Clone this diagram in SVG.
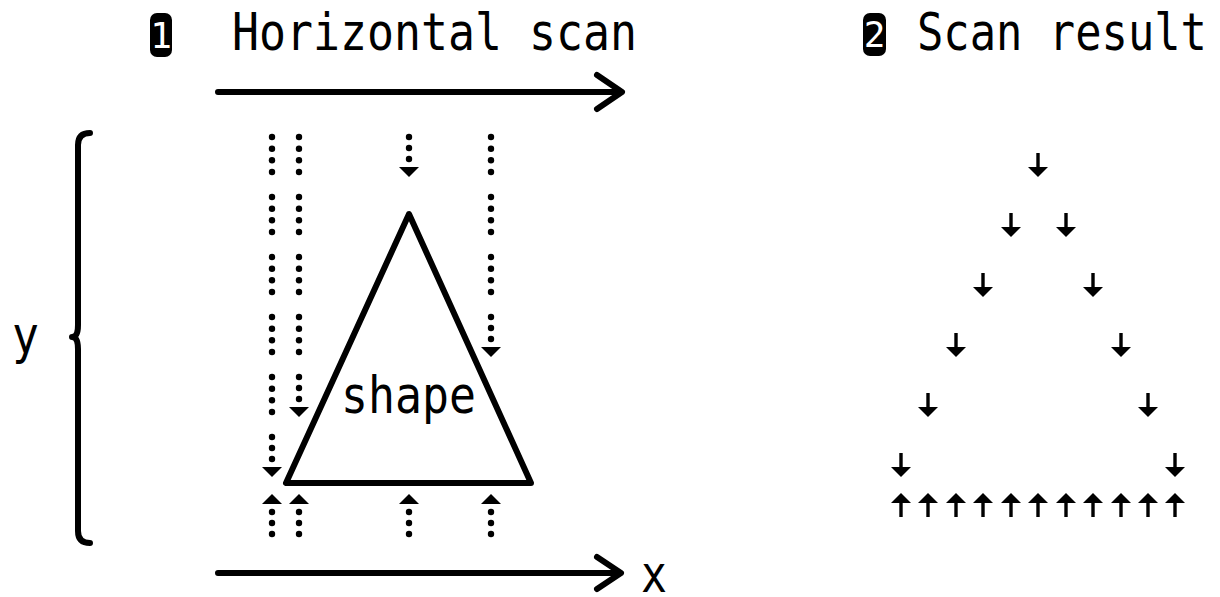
<svg xmlns="http://www.w3.org/2000/svg" xmlns:xlink="http://www.w3.org/1999/xlink" width="1220" height="597" viewBox="0 0 1220 597">
<style>
.t{font-family:"DejaVu Sans Mono","Liberation Mono",monospace;font-size:51px;fill:#000}
.n{font-family:"DejaVu Sans Mono","Liberation Mono",monospace;font-size:36px;fill:#fff;text-anchor:middle}
.ln{fill:none;stroke:#000;stroke-width:6;stroke-linecap:round;stroke-linejoin:round}
</style>
<defs>
<g id="dots4"><circle cy="0" r="3.2"/><circle cy="11.7" r="3.2"/><circle cy="23.3" r="3.2"/><circle cy="35" r="3.2"/></g>
<g id="dn"><circle cy="0" r="3.2"/><circle cy="11" r="3.2"/><circle cy="22" r="3.2"/><polygon points="-10,30 10,30 0,40"/></g>
<g id="up"><polygon points="0,0 -10,10 10,10"/><circle cy="18" r="3.2"/><circle cy="29" r="3.2"/><circle cy="40" r="3.2"/></g>
<g id="sd"><rect x="-1.7" y="0" width="3.4" height="15"/><polygon points="-10,14 10,14 0,24"/></g>
<g id="su"><polygon points="0,0 -10,10 10,10"/><rect x="-1.7" y="9" width="3.4" height="15"/></g>
</defs>
<rect width="1220" height="597" fill="#fff"/>

<g id="title1">
<rect x="150" y="13" width="22" height="44" rx="7" fill="#000"/>
<text class="n" x="161" y="48">1</text>
<text class="t" x="232" y="50" textLength="405" lengthAdjust="spacingAndGlyphs">Horizontal scan</text>
</g>
<g id="title2">
<rect x="863" y="13" width="23" height="43" rx="7" fill="#000"/>
<text class="n" x="874.5" y="47">2</text>
<text class="t" x="917" y="50" textLength="290" lengthAdjust="spacingAndGlyphs">Scan result</text>
</g>

<g id="y-axis">
<path class="ln" d="M90 133 Q78 133 78 145 L78 325 Q78 337 72 337 Q78 337 78 349 L78 531 Q78 543 90 543" stroke-width="5"/>
<text class="t" x="12" y="353" textLength="27" lengthAdjust="spacingAndGlyphs">y</text>
</g>

<g id="x-axis">
<text class="t" x="641" y="592" textLength="26" lengthAdjust="spacingAndGlyphs">x</text>
</g>

<g id="shape">
<polygon class="ln" points="409,214 286,483 531,483" stroke-width="5.5"/>
<text class="t" x="341" y="413" textLength="135" lengthAdjust="spacingAndGlyphs">shape</text>
</g>

<g id="connectors">
<path class="ln" d="M218 92 H621 M597 75 L622 92 L597 109"/>
<path class="ln" d="M218 573 H620 M597 557 L621 573 L597 589"/>
<g id="scan-col1">
<use href="#dots4" x="272" y="137"/><use href="#dots4" x="272" y="197"/><use href="#dots4" x="272" y="257"/><use href="#dots4" x="272" y="317"/><use href="#dots4" x="272" y="377"/>
<use href="#dn" x="272" y="437"/><use href="#up" x="272" y="494"/>
</g>
<g id="scan-col2">
<use href="#dots4" x="299" y="137"/><use href="#dots4" x="299" y="197"/><use href="#dots4" x="299" y="257"/><use href="#dots4" x="299" y="317"/>
<use href="#dn" x="299" y="377"/><use href="#up" x="299" y="494"/>
</g>
<g id="scan-col3">
<use href="#dn" x="409" y="137"/><use href="#up" x="409" y="494"/>
</g>
<g id="scan-col4">
<use href="#dots4" x="491" y="137"/><use href="#dots4" x="491" y="197"/><use href="#dots4" x="491" y="257"/>
<use href="#dn" x="491" y="317"/><use href="#up" x="491" y="494"/>
</g>
</g>

<g id="result">
<use href="#sd" x="1038" y="153"/>
<use href="#sd" x="1011" y="213"/><use href="#sd" x="1066" y="213"/>
<use href="#sd" x="983" y="273"/><use href="#sd" x="1093" y="273"/>
<use href="#sd" x="956" y="333"/><use href="#sd" x="1121" y="333"/>
<use href="#sd" x="928" y="393"/><use href="#sd" x="1148" y="393"/>
<use href="#sd" x="901" y="453"/><use href="#sd" x="1175" y="453"/>
<use href="#su" x="901" y="493"/><use href="#su" x="928" y="493"/><use href="#su" x="956" y="493"/><use href="#su" x="983" y="493"/><use href="#su" x="1011" y="493"/><use href="#su" x="1038" y="493"/><use href="#su" x="1066" y="493"/><use href="#su" x="1093" y="493"/><use href="#su" x="1121" y="493"/><use href="#su" x="1148" y="493"/><use href="#su" x="1175" y="493"/>
</g>
</svg>
